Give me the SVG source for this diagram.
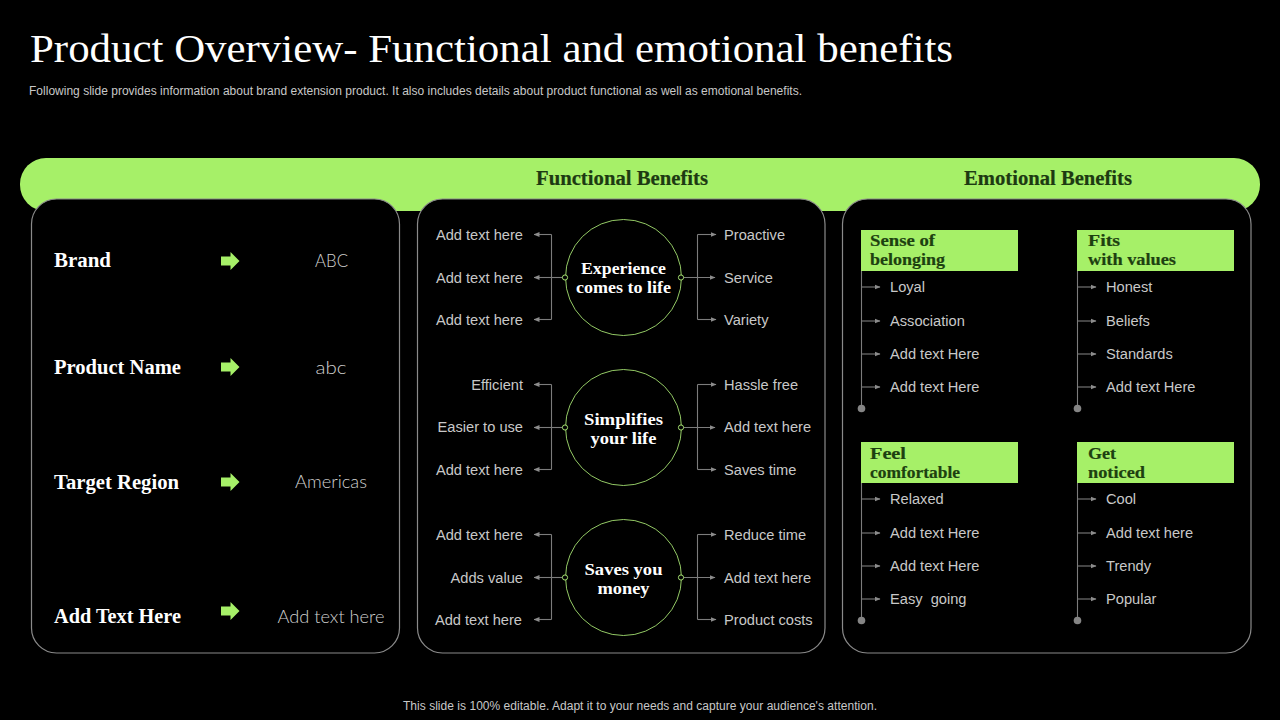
<svg xmlns="http://www.w3.org/2000/svg" width="1280" height="720" viewBox="0 0 1280 720">
<style>
.s{font-family:"Liberation Serif","DejaVu Serif",serif;font-weight:700}
.a{font-family:"Liberation Sans",Arial,sans-serif;font-size:14.65px;fill:#c8c8c8;white-space:pre}
.e{text-anchor:end}
.h{font-size:20px;fill:#1d3a12;stroke:#1d3a12;stroke-width:.2}
.t{font-size:17px;fill:#1d4010;stroke:#1d4010;stroke-width:.2}
.k{font-size:20.5px;fill:#fff}
.v{font-family:Lato,"Liberation Sans",sans-serif;font-weight:300;font-size:18px;fill:#d0d0d0;text-anchor:middle}
.c{font-size:16px;fill:#fff;text-anchor:middle}
.p{fill:#000;stroke:#8a8a8a;stroke-width:1.2}
.o{fill:#000;stroke:#a4e070;stroke-width:.9}
.d{fill:#000;stroke:#a4e070;stroke-width:1}
.l{fill:none;stroke:#7c7c7c;stroke-width:1.1}
.m{fill:none;stroke:#7c7c7c;stroke-width:1.1;marker-end:url(#ar)}
.g{fill:#a6f068}
</style>
<defs>
<marker id="ar" viewBox="0 0 6 6" refX="5.5" refY="3" markerWidth="6" markerHeight="6" markerUnits="userSpaceOnUse" orient="auto"><path d="M0 .5L6 3L0 5.5z" fill="#8c8c8c"/></marker>
<path id="ba" d="M0 -4.5H9.5V-9L18.5 0L9.5 9V4.5H0z" fill="#a6f068"/>
</defs>
<rect width="1280" height="720" fill="#000"/>
<g id="header">
<text x="30" y="62" textLength="923" lengthAdjust="spacingAndGlyphs" style="font-family:'Liberation Serif',serif;font-size:40px;fill:#fff">Product Overview- Functional and emotional benefits</text>
<text x="29" y="94.5" textLength="773" lengthAdjust="spacing" style="font-family:'Liberation Sans',sans-serif;font-size:12px;fill:#c8c8c8">Following slide provides information about brand extension product. It also includes details about product functional as well as emotional benefits.</text>
</g>
<g id="band">
<rect x="20" y="158" width="1240" height="53" rx="26" class="g"/>
<text x="536" y="185" textLength="172" lengthAdjust="spacingAndGlyphs" class="s h">Functional Benefits</text>
<text x="964" y="185" textLength="168" lengthAdjust="spacingAndGlyphs" class="s h">Emotional Benefits</text>
</g>
<g id="panels">
<rect x="31.5" y="199" width="368" height="454" rx="25" class="p"/>
<rect x="417.5" y="199" width="407.5" height="454" rx="25" class="p"/>
<rect x="842.5" y="199" width="408.5" height="454" rx="25" class="p"/>
</g>
<g id="connectors">
<path class="l" d="M551.5 234.5V319.5"/><path class="m" d="M551.5 234.5H534"/><path class="m" d="M565 277.5H534"/><path class="m" d="M551.5 319.5H534"/>
<path class="l" d="M697.5 234.5V319.5"/><path class="m" d="M697.5 234.5H716"/><path class="m" d="M681 277.5H715"/><path class="m" d="M697.5 319.5H716"/>
<path class="l" d="M551.5 384.5V469.5"/><path class="m" d="M551.5 384.5H534"/><path class="m" d="M565 427.5H534"/><path class="m" d="M551.5 469.5H534"/>
<path class="l" d="M697.5 384.5V469.5"/><path class="m" d="M697.5 384.5H716"/><path class="m" d="M681 427.5H715"/><path class="m" d="M697.5 469.5H716"/>
<path class="l" d="M551.5 534.5V619.5"/><path class="m" d="M551.5 534.5H534"/><path class="m" d="M565 577.5H534"/><path class="m" d="M551.5 619.5H534"/>
<path class="l" d="M697.5 534.5V619.5"/><path class="m" d="M697.5 534.5H716"/><path class="m" d="M681 577.5H715"/><path class="m" d="M697.5 619.5H716"/>
<path class="l" d="M861.5 271V408"/><path class="m" d="M861.5 287H880"/><path class="m" d="M861.5 321H880"/><path class="m" d="M861.5 354H880"/><path class="m" d="M861.5 387H880"/>
<path class="l" d="M1077.5 271V408"/><path class="m" d="M1077.5 287H1096"/><path class="m" d="M1077.5 321H1096"/><path class="m" d="M1077.5 354H1096"/><path class="m" d="M1077.5 387H1096"/>
<path class="l" d="M861.5 483V620"/><path class="m" d="M861.5 499H880"/><path class="m" d="M861.5 533H880"/><path class="m" d="M861.5 566H880"/><path class="m" d="M861.5 599H880"/>
<path class="l" d="M1077.5 483V620"/><path class="m" d="M1077.5 499H1096"/><path class="m" d="M1077.5 533H1096"/><path class="m" d="M1077.5 566H1096"/><path class="m" d="M1077.5 599H1096"/>
<g fill="#858585"><circle cx="861.5" cy="408.5" r="3.8"/><circle cx="1077.5" cy="408.5" r="3.8"/><circle cx="861.5" cy="620.5" r="3.8"/><circle cx="1077.5" cy="620.5" r="3.8"/></g>
</g>
<g id="row-brand"><text x="54" y="267" textLength="57" lengthAdjust="spacingAndGlyphs" class="s k">Brand</text><use href="#ba" x="221" y="261"/><text x="331.5" y="267" textLength="33" lengthAdjust="spacingAndGlyphs" class="v">ABC</text></g>
<g id="row-product"><text x="54" y="374" textLength="127" lengthAdjust="spacingAndGlyphs" class="s k">Product Name</text><use href="#ba" x="221" y="367"/><text x="331" y="374" textLength="31" lengthAdjust="spacingAndGlyphs" class="v">abc</text></g>
<g id="row-region"><text x="54" y="489" textLength="125" lengthAdjust="spacingAndGlyphs" class="s k">Target Region</text><use href="#ba" x="221" y="482"/><text x="331" y="488" textLength="72" lengthAdjust="spacingAndGlyphs" class="v">Americas</text></g>
<g id="row-other"><text x="54" y="623" textLength="127" lengthAdjust="spacingAndGlyphs" class="s k">Add Text Here</text><use href="#ba" x="221" y="611"/><text x="331" y="623" textLength="107" lengthAdjust="spacingAndGlyphs" class="v">Add text here</text></g>
<g id="f1">
<circle cx="623.5" cy="277.5" r="58" class="o"/><circle cx="565" cy="277.5" r="2.6" class="d"/><circle cx="681" cy="277.5" r="2.6" class="d"/>
<text x="623.5" y="274" textLength="85" lengthAdjust="spacingAndGlyphs" class="s c">Experience</text><text x="623.5" y="293" textLength="95" lengthAdjust="spacingAndGlyphs" class="s c">comes to life</text>
<text x="523" y="240" class="a e">Add text here</text><text x="523" y="283" class="a e">Add text here</text><text x="523" y="325" class="a e">Add text here</text>
<text x="724" y="240" class="a">Proactive</text><text x="724" y="283" class="a">Service</text><text x="724" y="325" class="a">Variety</text>
</g>
<g id="f2">
<circle cx="623.5" cy="427.5" r="58" class="o"/><circle cx="565" cy="427.5" r="2.6" class="d"/><circle cx="681" cy="427.5" r="2.6" class="d"/>
<text x="623.5" y="425" textLength="79" lengthAdjust="spacingAndGlyphs" class="s c">Simplifies</text><text x="623.5" y="444" textLength="66" lengthAdjust="spacingAndGlyphs" class="s c">your life</text>
<text x="523" y="390" class="a e">Efficient</text><text x="523" y="432" class="a e">Easier to use</text><text x="523" y="475" class="a e">Add text here</text>
<text x="724" y="390" class="a">Hassle free</text><text x="724" y="432" class="a">Add text here</text><text x="724" y="475" class="a">Saves time</text>
</g>
<g id="f3">
<circle cx="623.5" cy="577.5" r="58" class="o"/><circle cx="565" cy="577.5" r="2.6" class="d"/><circle cx="681" cy="577.5" r="2.6" class="d"/>
<text x="623.5" y="575" textLength="78" lengthAdjust="spacingAndGlyphs" class="s c">Saves you</text><text x="623.5" y="594" textLength="52" lengthAdjust="spacingAndGlyphs" class="s c">money</text>
<text x="523" y="540" class="a e">Add text here</text><text x="523" y="583" class="a e">Adds value</text><text x="522" y="625" class="a e">Add text here</text>
<text x="724" y="540" class="a">Reduce time</text><text x="724" y="583" class="a">Add text here</text><text x="724" y="625" class="a">Product costs</text>
</g>
<g id="e1">
<rect x="861" y="230" width="157" height="41" class="g"/>
<text x="870" y="246" textLength="65" lengthAdjust="spacingAndGlyphs" class="s t">Sense of</text><text x="870" y="265" textLength="75" lengthAdjust="spacingAndGlyphs" class="s t">belonging</text>
<text x="890" y="292" class="a">Loyal</text><text x="890" y="326" class="a">Association</text><text x="890" y="359" class="a">Add text Here</text><text x="890" y="392" class="a">Add text Here</text>
</g>
<g id="e2">
<rect x="1077" y="230" width="157" height="41" class="g"/>
<text x="1088" y="246" textLength="32" lengthAdjust="spacingAndGlyphs" class="s t">Fits</text><text x="1088" y="265" textLength="88" lengthAdjust="spacingAndGlyphs" class="s t">with values</text>
<text x="1106" y="292" class="a">Honest</text><text x="1106" y="326" class="a">Beliefs</text><text x="1106" y="359" class="a">Standards</text><text x="1106" y="392" class="a">Add text Here</text>
</g>
<g id="e3">
<rect x="861" y="442" width="157" height="41" class="g"/>
<text x="870" y="459" textLength="36" lengthAdjust="spacingAndGlyphs" class="s t">Feel</text><text x="870" y="478" textLength="90" lengthAdjust="spacingAndGlyphs" class="s t">comfortable</text>
<text x="890" y="504" class="a">Relaxed</text><text x="890" y="538" class="a">Add text Here</text><text x="890" y="571" class="a">Add text Here</text><text x="890" y="604" class="a">Easy  going</text>
</g>
<g id="e4">
<rect x="1077" y="442" width="157" height="41" class="g"/>
<text x="1088" y="459" textLength="28" lengthAdjust="spacingAndGlyphs" class="s t">Get</text><text x="1088" y="478" textLength="57" lengthAdjust="spacingAndGlyphs" class="s t">noticed</text>
<text x="1106" y="504" class="a">Cool</text><text x="1106" y="538" class="a">Add text here</text><text x="1106" y="571" class="a">Trendy</text><text x="1106" y="604" class="a">Popular</text>
</g>
<text id="footer" x="640" y="709.5" text-anchor="middle" textLength="474" lengthAdjust="spacing" style="font-family:'Liberation Sans',sans-serif;font-size:12px;fill:#c8c8c8">This slide is 100% editable. Adapt it to your needs and capture your audience's attention.</text>
</svg>
